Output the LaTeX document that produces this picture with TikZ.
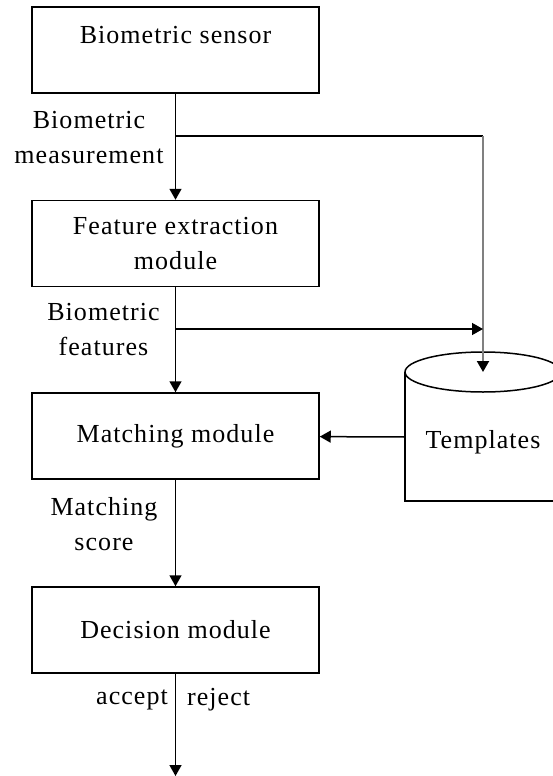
\documentclass[tikz,border=0pt]{standalone}
\usepackage{fontspec}
\setmainfont{Liberation Serif}[LetterSpace=4]
\usetikzlibrary{arrows.meta}

\begin{document}
\begin{tikzpicture}[x=1pt,y=-1pt,
  font=\fontsize{26}{35}\selectfont,
  box/.style={draw,line width=1.5pt,minimum width=287pt,minimum height=86pt,align=center,inner sep=0pt},
  lbl/.style={align=center,inner sep=0pt},
  flow/.style={line width=1.5pt,-{Triangle[length=11pt,width=12pt,color=black]}}]
\useasboundingbox (0,0) rectangle (553,776);
\node[box] (sensor) at (175.5,50) {Biometric sensor\\[-15pt] \strut};
\node[box] (extract) at (175.5,243.5) {Feature extraction\\module};
\node[box] (match) at (175.5,436) {Matching module};
\node[box] (decide) at (175.5,630) {Decision module};
\draw[line width=1.5pt] (405,372) -- (405,501) -- (561,501) -- (561,372);
\draw[line width=1.5pt] (483,372) ellipse [x radius=78pt,y radius=20pt];
\node[lbl] (tmpl) at (483,442) {Templates};
\coordinate (tmpltop) at (483,372);
\coordinate (tmplside) at (405,437);
\coordinate (split1) at (175.5,136);
\coordinate (corner) at (483,136);
\coordinate (split2) at (175.5,329);
\coordinate (feed) at (483,329);
\coordinate (out) at (175.5,776);
\draw[flow] (sensor) -- (extract);
\draw[flow] (extract) -- (match);
\draw[flow] (match) -- (decide);
\draw[flow] (decide) -- (out);
\draw[line width=1.5pt] (split1) -- (corner);
\draw[flow,gray,line width=2pt] (corner) -- (tmpltop);
\draw[flow] (split2) -- (feed);
\draw[flow] (tmplside) -- (match);
\node[lbl] (meas) at (89,137.5) {Biometric\\measurement};
\node[lbl] (feat) at (103.5,330) {Biometric\\features};
\node[lbl] (score) at (104,524) {Matching\\score};
\node[lbl,anchor=east] (acc) at (168,700) {accept};
\node[lbl,anchor=west] (rej) at (187,700) {reject};
\end{tikzpicture}
\end{document}
